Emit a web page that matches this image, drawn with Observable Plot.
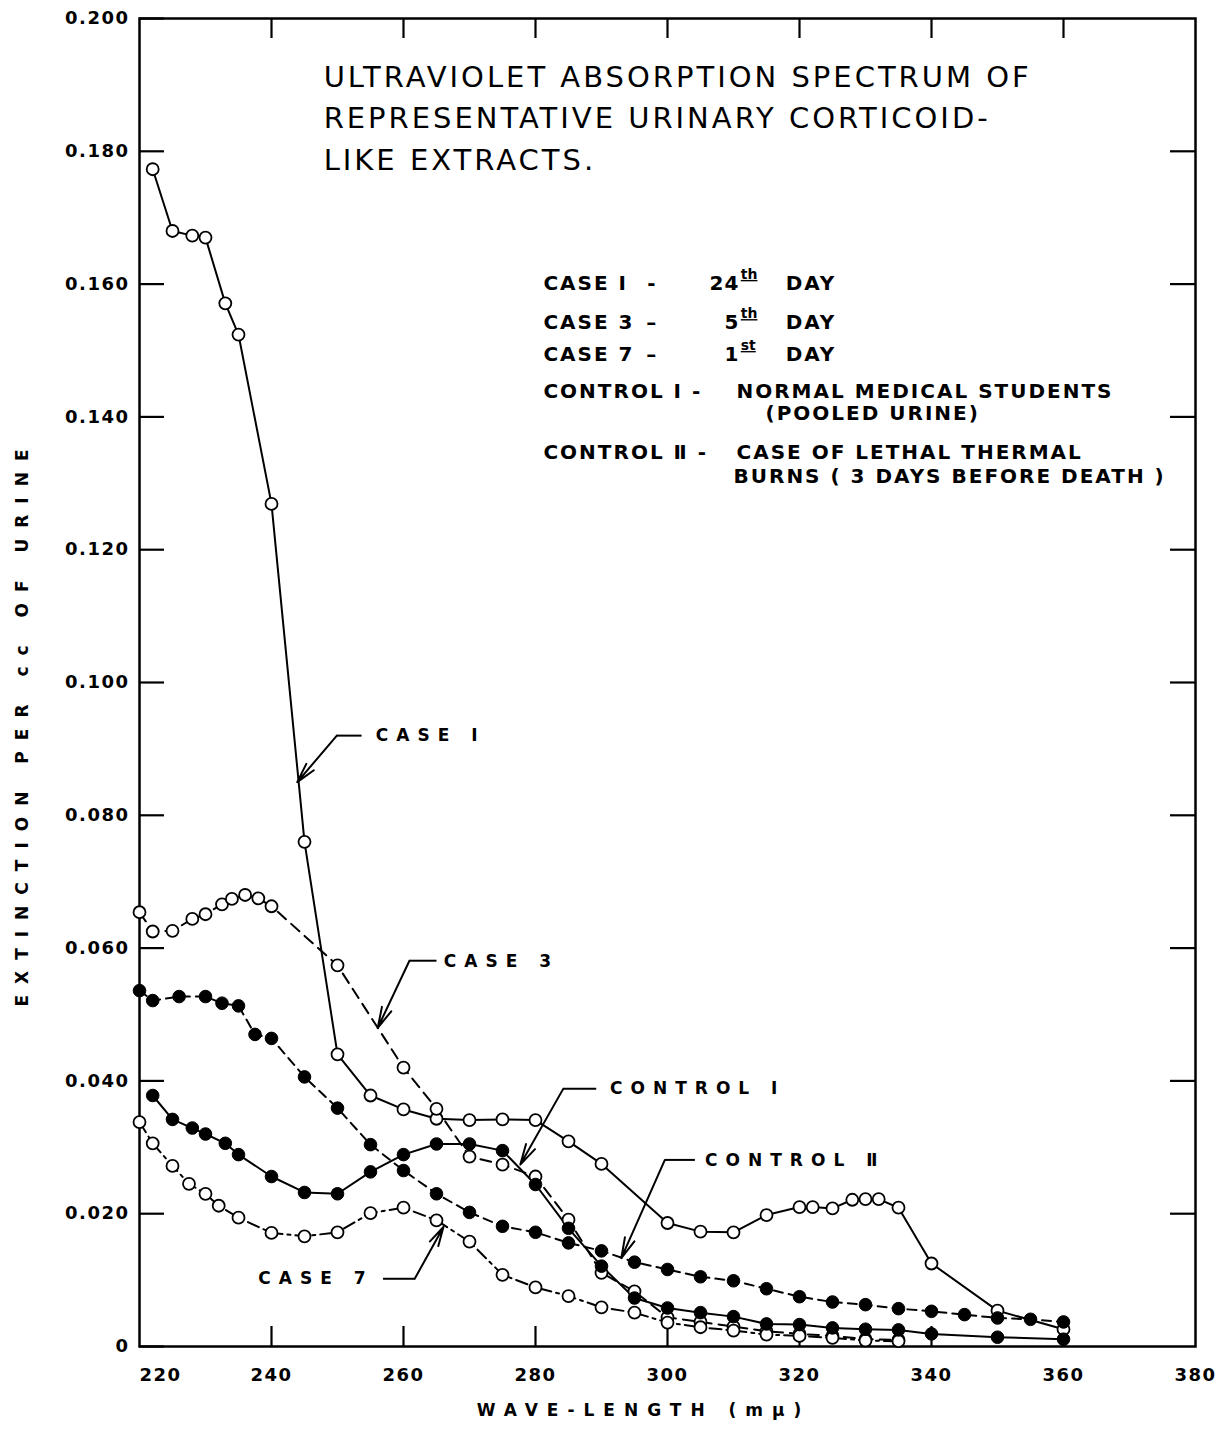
<!DOCTYPE html>
<html><head><meta charset="utf-8">
<script src="https://cdn.jsdelivr.net/npm/d3@7"></script>
<script src="https://cdn.jsdelivr.net/npm/@observablehq/plot@0.6"></script>
<style>html,body{margin:0;padding:0;background:#fff}</style>
</head><body><div id="chart"></div>
<script>
// ---------- data ----------
const case1Wavelength = [222,225,228,230,233,235,240,245,250,255,260,265,270,275,280,285,290,300,305,310,315,320,322,325,328,330,332,335,340,350,360];
const case1Extinction = [0.1773,0.1680,0.1673,0.1670,0.1571,0.1524,0.1269,0.0760,0.0440,0.0378,0.0357,0.0343,0.0341,0.0342,0.0341,0.0309,0.0275,0.0186,0.0173,0.0172,0.0198,0.0210,0.0210,0.0208,0.0221,0.0222,0.0222,0.0209,0.0125,0.0054,0.0026];

const case3Wavelength = [220,222,225,228,230,232.5,234,236,238,240,250,260,265,270,275,280,285,290,295,300,305,310,315,320,325,330,335];
const case3Extinction = [0.0654,0.0625,0.0626,0.0644,0.0651,0.0666,0.0674,0.0680,0.0675,0.0663,0.0574,0.0420,0.0358,0.0286,0.0274,0.0256,0.0191,0.0111,0.0083,0.0044,0.0037,0.0030,0.0023,0.0019,0.0016,0.0011,0.0010];

const case7Wavelength = [220,222,225,227.5,230,232,235,240,245,250,255,260,265,270,275,280,285,290,295,300,305,310,315,320,325,330,335];
const case7Extinction = [0.0338,0.0306,0.0272,0.0245,0.0230,0.0212,0.0194,0.0171,0.0166,0.0172,0.0201,0.0209,0.0190,0.0158,0.0108,0.0089,0.0076,0.0059,0.0051,0.0036,0.0029,0.0024,0.0018,0.0016,0.0013,0.0009,0.0008];

const control1Wavelength = [222,225,228,230,233,235,240,245,250,255,260,265,270,275,280,285,290,295,300,305,310,315,320,325,330,335,340,350,360];
const control1Extinction = [0.0378,0.0342,0.0329,0.0320,0.0306,0.0289,0.0256,0.0232,0.0230,0.0263,0.0289,0.0305,0.0305,0.0295,0.0244,0.0178,0.0121,0.0073,0.0058,0.0051,0.0045,0.0034,0.0033,0.0028,0.0026,0.0025,0.0019,0.0014,0.0011];

const control2Wavelength = [220,222,226,230,232.5,235,237.5,240,245,250,255,260,265,270,275,280,285,290,295,300,305,310,315,320,325,330,335,340,345,350,355,360];
const control2Extinction = [0.0536,0.0521,0.0527,0.0527,0.0517,0.0513,0.0470,0.0464,0.0406,0.0359,0.0304,0.0265,0.0230,0.0202,0.0181,0.0172,0.0156,0.0144,0.0127,0.0116,0.0105,0.0099,0.0087,0.0075,0.0067,0.0063,0.0057,0.0053,0.0048,0.0043,0.0041,0.0037];

const yTickValues = [0,0.02,0.04,0.06,0.08,0.10,0.12,0.14,0.16,0.18,0.20];
const yTickLabels = ["0","0.020","0.040","0.060","0.080","0.100","0.120","0.140","0.160","0.180","0.200"];
const xTickValues = [220,240,260,280,300,320,340,360,380];
const xTickLabels = ["220","240","260","280","300","320","340","360","380"];

const titleLines = ["ULTRAVIOLET ABSORPTION SPECTRUM OF","REPRESENTATIVE URINARY CORTICOID-","LIKE EXTRACTS."];
const xTitle = "WAVE-LENGTH (mμ)";
const yTitle = "EXTINCTION PER cc OF URINE";

const legendCases = [
  {label: "CASE I", dash: "-", num: "24", sup: "th", rest: "DAY"},
  {label: "CASE 3", dash: "–", num: "5",  sup: "th", rest: "DAY"},
  {label: "CASE 7", dash: "–", num: "1",  sup: "st", rest: "DAY"}
];
const legendControls = [
  {head: "CONTROL Ⅰ -", body: "NORMAL MEDICAL STUDENTS", cont: "(POOLED URINE)"},
  {head: "CONTROL Ⅱ -", body: "CASE OF LETHAL THERMAL", cont: "BURNS ( 3 DAYS BEFORE DEATH )"}
];

// ---------- annotation placement (data coordinates) ----------
const titlePos = {x: 247.9, y: [0.1911, 0.1849, 0.1786]};
const legendPos = {x0: 281.2, dash: 297.7, numEnd: 310.9, sup: 311.1, day: 317.9,
  caseY: [0.1601, 0.1542, 0.1494],
  body: 310.45, cont: [314.85, 310.0], controlY: [[0.1438, 0.1405], [0.1346, 0.1310]]};
const callouts = [
  {text: "CASE I",     label: [255.8, 0.0920], start: [253.65, 0.0920], bend: [249.9, 0.0920], tip: [243.9, 0.0850]},
  {text: "CASE 3",     label: [266.1, 0.0580], start: [265.0, 0.0581],  bend: [260.9, 0.0581], tip: [256.1, 0.0480]},
  {text: "CONTROL Ⅰ",  label: [291.3, 0.0388], start: [289.2, 0.0388],  bend: [284.2, 0.0388], tip: [277.7, 0.0274]},
  {text: "CONTROL Ⅱ",  label: [305.7, 0.0280], start: [304.15, 0.0281], bend: [299.6, 0.0281], tip: [293.0, 0.0133]},
  {text: "CASE 7",     label: [238.0, 0.0102], start: [256.9, 0.0102],  bend: [261.7, 0.0102], tip: [266.05, 0.0180]}
];

// ---------- build ----------
const rows = (xs, ys) => xs.map((x, i) => ({x, y: ys[i]}));
const case1 = rows(case1Wavelength, case1Extinction);
const case3 = rows(case3Wavelength, case3Extinction);
const case7 = rows(case7Wavelength, case7Extinction);
const control1 = rows(control1Wavelength, control1Extinction);
const control2 = rows(control2Wavelength, control2Extinction);

const W = 1223, H = 1430, mL = 139, mR = 28, mT = 18, mB = 84;
const pw = W - mL - mR, ph = H - mT - mB;
const F = "DejaVu Sans";
const innerX = xTickValues.slice(1, -1);
const innerY = yTickValues.slice(1, -1);
const yLab = new Map(yTickValues.map((v, i) => [v, yTickLabels[i]]));
const xLab = new Map(xTickValues.map((v, i) => [v, xTickLabels[i]]));

const lineOpts = {x: "x", y: "y", stroke: "black", strokeWidth: 2};
const openDot = {x: "x", y: "y", r: 6, fill: "white", stroke: "black", strokeWidth: 1.8};
const fillDot = {x: "x", y: "y", r: 6.3, fill: "black", stroke: "black", strokeWidth: 1};

const chart = Plot.plot({
  width: W, height: H,
  marginLeft: mL, marginRight: mR, marginTop: mT, marginBottom: mB,
  x: {domain: [220, 380], axis: null},
  y: {domain: [0, 0.2], axis: null},
  style: {background: "white", color: "black", fontFamily: F},
  marks: [
    Plot.frame({stroke: "black", strokeWidth: 2.5}),
    // inward ticks on four sides
    Plot.tickY(yTickValues, {y: d => d, insetRight: pw - 25, strokeWidth: 2.2}),
    Plot.tickY(innerY, {y: d => d, insetLeft: pw - 25, strokeWidth: 2.2}),
    Plot.tickX(innerX, {x: d => d, insetTop: ph - 20, strokeWidth: 2.2}),
    Plot.tickX(innerX, {x: d => d, insetBottom: ph - 20, strokeWidth: 2.2}),
    // tick labels
    Plot.text(yTickValues, {y: d => d, text: d => yLab.get(d), frameAnchor: "left", dx: -10, textAnchor: "end",
      fontSize: 18, fontWeight: "bold", fontFamily: F, ariaDescription: "ytick"}),
    Plot.text(xTickValues.slice(1), {x: d => d, text: d => xLab.get(d), frameAnchor: "bottom", dy: 34,
      fontSize: 18, fontWeight: "bold", fontFamily: F, ariaDescription: "xtick"}),
    Plot.text(xTickValues.slice(0, 1), {x: d => d, text: d => xLab.get(d), frameAnchor: "bottom", dy: 34, dx: 21,
      fontSize: 18, fontWeight: "bold", fontFamily: F, ariaDescription: "xtick"}),
    // axis titles
    Plot.text([yTitle], {frameAnchor: "left", dx: -117, dy: 40, rotate: -90, textAnchor: "middle", fontSize: 17, fontWeight: "bold",
      fontFamily: F, ariaDescription: "ytitle"}),
    Plot.text([xTitle], {frameAnchor: "bottom", dx: -24, dy: 69, textAnchor: "middle", fontSize: 17, fontWeight: "bold",
      fontFamily: F, ariaDescription: "xtitle"}),
    // series lines
    Plot.line(case1, {...lineOpts}),
    Plot.line(case3, {...lineOpts, strokeDasharray: "11,7"}),
    Plot.line(case7, {...lineOpts, strokeDasharray: "12,5,3,5"}),
    Plot.line(control1, {...lineOpts}),
    Plot.line(control2, {...lineOpts, strokeDasharray: "9,6"}),
    // series markers
    Plot.dot(case1, openDot),
    Plot.dot(case3, openDot),
    Plot.dot(case7, openDot),
    Plot.dot(control1, fillDot),
    Plot.dot(control2, fillDot),
    // callouts
    Plot.link(callouts, {x1: d => d.start[0], y1: d => d.start[1], x2: d => d.bend[0], y2: d => d.bend[1],
      stroke: "black", strokeWidth: 2}),
    Plot.arrow(callouts, {x1: d => d.bend[0], y1: d => d.bend[1], x2: d => d.tip[0], y2: d => d.tip[1],
      stroke: "black", strokeWidth: 2, headLength: 16, headAngle: 28}),
    Plot.text(callouts, {x: d => d.label[0], y: d => d.label[1], text: "text", textAnchor: "start",
      fontSize: 17, fontWeight: "bold", fontFamily: F, ariaDescription: "callout"}),
    // title
    Plot.text(titleLines, {x: () => titlePos.x, y: (d, i) => titlePos.y[i], text: d => d, textAnchor: "start",
      fontSize: 29, fontFamily: F, ariaDescription: "title"}),
    // legend (case rows)
    Plot.text(legendCases, {x: () => legendPos.x0, y: (d, i) => legendPos.caseY[i], text: "label", textAnchor: "start",
      fontSize: 20, fontWeight: "bold", fontFamily: F, ariaDescription: "legend"}),
    Plot.text(legendCases, {x: () => legendPos.dash, y: (d, i) => legendPos.caseY[i], text: "dash",
      fontSize: 20, fontWeight: "bold", fontFamily: F, ariaDescription: "legend"}),
    Plot.text(legendCases, {x: () => legendPos.numEnd, y: (d, i) => legendPos.caseY[i], text: "num", textAnchor: "end",
      fontSize: 20, fontWeight: "bold", fontFamily: F, ariaDescription: "legendnum"}),
    Plot.text(legendCases, {x: () => legendPos.sup, y: (d, i) => legendPos.caseY[i], text: "sup", textAnchor: "start",
      dy: -9, fontSize: 14, fontWeight: "bold", fontFamily: F, ariaDescription: "sup"}),
    Plot.text(legendCases, {x: () => legendPos.day, y: (d, i) => legendPos.caseY[i], text: "rest", textAnchor: "start",
      fontSize: 20, fontWeight: "bold", fontFamily: F, ariaDescription: "legend"}),
    // legend (control rows)
    Plot.text(legendControls, {x: () => legendPos.x0, y: (d, i) => legendPos.controlY[i][0], text: "head", textAnchor: "start",
      fontSize: 20, fontWeight: "bold", fontFamily: F, ariaDescription: "legend"}),
    Plot.text(legendControls, {x: () => legendPos.body, y: (d, i) => legendPos.controlY[i][0], text: "body", textAnchor: "start",
      fontSize: 20, fontWeight: "bold", fontFamily: F, ariaDescription: "legend"}),
    Plot.text(legendControls, {x: (d, i) => legendPos.cont[i], y: (d, i) => legendPos.controlY[i][1], text: "cont", textAnchor: "start",
      fontSize: 20, fontWeight: "bold", fontFamily: F, ariaDescription: "legend"})
  ]
});

// letter spacing / underline styling
const spacing = {ytick: "1.5px", xtick: "1.5px", ytitle: "11px", xtitle: "9px", title: "3px",
  legend: "2px", legendnum: "1px", callout: "8px", sup: "0px"};
for (const [k, v] of Object.entries(spacing)) {
  chart.querySelectorAll(`g[aria-description="${k}"] text`).forEach(t => {
    t.style.letterSpacing = v;
    if (k === "sup") t.style.textDecoration = "underline";
  });
}
document.getElementById("chart").appendChild(chart);
</script></body></html>
